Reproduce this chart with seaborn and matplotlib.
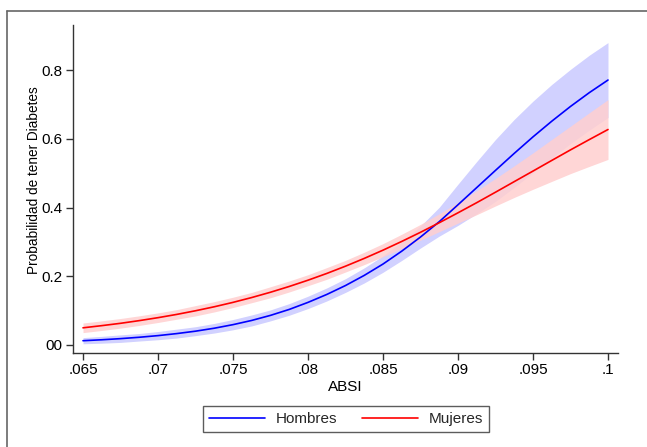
import numpy as np
import pandas as pd
import matplotlib
matplotlib.use("Agg")
import matplotlib.pyplot as plt
import seaborn as sns
from matplotlib.lines import Line2D

sns.set_theme(style="white")
plt.rcParams['font.family'] = ['Liberation Sans', 'DejaVu Sans']

absi = [0.065, 0.06625, 0.0675, 0.06875, 0.07, 0.07125, 0.0725, 0.07375,
        0.075, 0.07625, 0.0775, 0.07875, 0.08, 0.08125, 0.0825, 0.08375,
        0.085, 0.08625, 0.0875, 0.08875, 0.09, 0.09125, 0.0925, 0.09375,
        0.095, 0.09625, 0.0975, 0.09875, 0.1]
hombres = [0.0125, 0.0152, 0.0185, 0.0225, 0.0273, 0.0332, 0.0402, 0.0488,
           0.0592, 0.0715, 0.0862, 0.1035, 0.1240, 0.1470, 0.1730, 0.2025,
           0.2355, 0.2730, 0.3141, 0.3587, 0.4080, 0.4580, 0.5080, 0.5575,
           0.6055, 0.6510, 0.6940, 0.7340, 0.7708]
hombres_hw = [0.009, 0.010, 0.011, 0.011, 0.012, 0.013, 0.013, 0.014,
              0.015, 0.016, 0.016, 0.017, 0.018, 0.019, 0.020, 0.022,
              0.024, 0.027, 0.032, 0.042, 0.060, 0.076, 0.090, 0.099,
              0.104, 0.107, 0.108, 0.109, 0.109]
mujeres = [0.0500, 0.0563, 0.0631, 0.0709, 0.0795, 0.0890, 0.0996, 0.1112,
           0.1240, 0.1381, 0.1535, 0.1703, 0.1885, 0.2081, 0.2293, 0.2519,
           0.2759, 0.3013, 0.3279, 0.3557, 0.3846, 0.4141, 0.4445, 0.4753,
           0.5060, 0.5369, 0.5676, 0.5975, 0.6269]
mujeres_hw = [0.014, 0.014, 0.014, 0.014, 0.014, 0.014, 0.015, 0.015,
              0.015, 0.015, 0.016, 0.016, 0.016, 0.017, 0.017, 0.018,
              0.019, 0.021, 0.023, 0.026, 0.030, 0.035, 0.040, 0.046,
              0.053, 0.061, 0.069, 0.078, 0.087]

xticks = [0.065, 0.07, 0.075, 0.08, 0.085, 0.09, 0.095, 0.1]
xticklabels = [".065", ".07", ".075", ".08", ".085", ".09", ".095", ".1"]
yticks = [0, 0.2, 0.4, 0.6, 0.8]
yticklabels = ["00", "0.2", "0.4", "0.6", "0.8"]

n = len(absi)
df = pd.DataFrame({
    "ABSI": absi * 2,
    "prob": hombres + mujeres,
    "sexo": ["Hombres"] * n + ["Mujeres"] * n,
})
h = np.array(hombres); hw = np.array(hombres_hw)
m = np.array(mujeres); mw = np.array(mujeres_hw)

fig = plt.figure(figsize=(6.47, 4.47), dpi=100)
fig.patch.set_facecolor("white")
ax = fig.add_axes([73/647, 1 - 353/447, (618-73)/647, (353-25)/447])

ax.fill_between(absi, h - hw, h + hw, color="#0000ff", alpha=0.18, linewidth=0)
ax.fill_between(absi, m - mw, m + mw, color="#ffcfcf", alpha=0.85, linewidth=0)
sns.lineplot(data=df, x="ABSI", y="prob", hue="sexo",
             palette={"Hombres": "#0000ff", "Mujeres": "#ff0000"},
             linewidth=1.2, ax=ax, legend=False)

ax.set_xlim(0.065 - 0.035*10/525, 0.1 + 0.035*10/525)
ax.set_ylim(-8/343.75, 0.8 + 45/343.75)
ax.set_xticks(xticks)
ax.set_xticklabels(xticklabels)
ax.set_yticks(yticks)
ax.set_yticklabels(yticklabels)
ax.tick_params(axis="both", which="both", direction="out", length=5, width=1,
               color="#333333", labelsize=11, labelcolor="black", pad=2.5,
               bottom=True, left=True)
for s in ["top", "right"]:
    ax.spines[s].set_visible(False)
for s in ["left", "bottom"]:
    ax.spines[s].set_color("#333333")
    ax.spines[s].set_linewidth(1)
ax.set_xlabel("ABSI", fontsize=11, color="black")
ax.set_ylabel("Probabilidad de tener Diabetes", fontsize=9.8, color="black")
ax.xaxis.set_label_coords(0.5, -0.083)
ax.yaxis.set_label_coords(-0.058, 0.527)
ax.set_facecolor("white")

# outer frame (Stata graph region)
fig.add_artist(Line2D([7/647, 7/647], [0, 1 - 11/447], transform=fig.transFigure,
                      color="#666666", linewidth=1.2))
fig.add_artist(Line2D([7/647, 1], [1 - 11/447, 1 - 11/447], transform=fig.transFigure,
                      color="#666666", linewidth=1.2))

handles = [Line2D([0], [0], color="#0000ff", lw=1.2),
           Line2D([0], [0], color="#ff0000", lw=1.2)]
leg = fig.legend(handles, ["Hombres", "Mujeres"], loc="center",
                 bbox_to_anchor=(346/647, 1 - 419/447), ncol=2, frameon=True,
                 fancybox=False, edgecolor="#333333", fontsize=11,
                 handlelength=3.7, columnspacing=1.6, handletextpad=0.7,
                 borderpad=0.4)
leg.get_frame().set_linewidth(1)

fig.savefig("out.png", dpi=100, facecolor="white")
